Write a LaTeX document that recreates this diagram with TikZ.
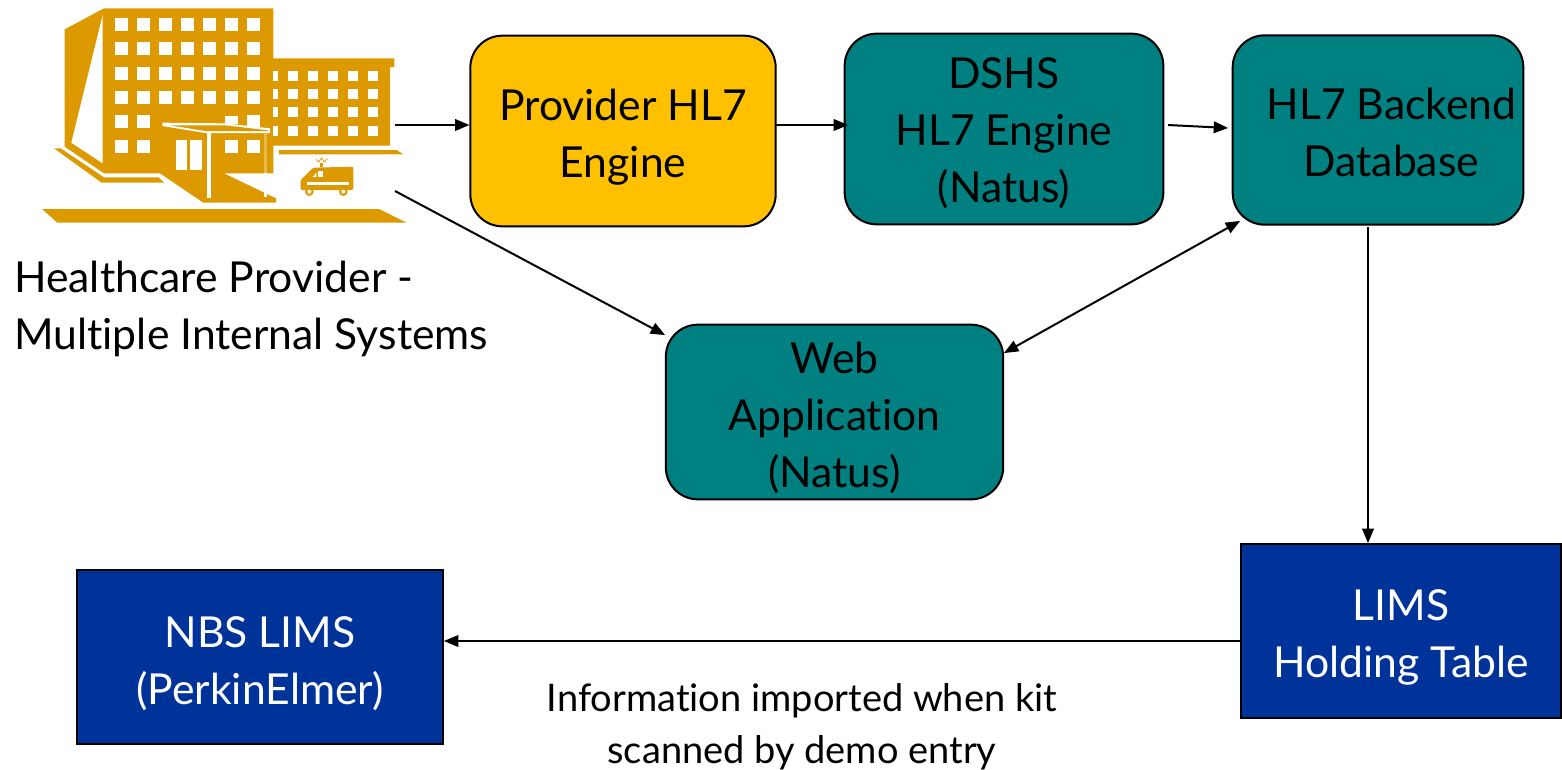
\documentclass[tikz,border=0pt]{standalone}
\usepackage{fontspec}
\setmainfont[Ligatures=NoCommon]{Lato}
\usepackage{xcolor}
\usetikzlibrary{shapes,arrows}
\definecolor{hospital}{HTML}{DD9900}
\definecolor{gold}{HTML}{FFC000}
\definecolor{tealbox}{HTML}{008080}
\definecolor{navy}{HTML}{003399}
\newcommand{\dropline}{\rule{0pt}{33pt}}

\begin{document}
\begin{tikzpicture}[x=0.75pt,y=-0.75pt]
\tikzstyle{label} = [align = center, inner sep = 0pt, font = \fontsize{32}{42.75}\selectfont]
\tikzstyle{engine} = [label, rectangle, rounded corners = 24pt, draw = black, line width = 1.5pt, text = black]
\tikzstyle{lims} = [label, rectangle, draw = black, line width = 1.5pt, fill = navy, text = white, minimum width = 240pt, minimum height = 131pt]
\tikzstyle{flow} = [-triangle 45, line width = 1.5pt, black]
\useasboundingbox (0,0) rectangle (1562,769);

% hospital, in a scope of its own
\begin{scope}[shift = {(30,0)}, x = 0.25pt, y = -0.25pt]
\fill[hospital] (104,88) -- (222,25) -- (730,25) -- (730,175) -- (1093,175) -- (1093,201) -- (1080,201) -- (1080,437) -- (730,437) -- (730,520) -- (582,520) -- (738,595) -- (738,608) -- (520,608) -- (390,520) -- (222,520) -- (104,440) -- cycle;
\fill[white] (218,45) -- (124,428) -- (218,490) -- cycle;
\fill[hospital] (72,445) -- (92,445) -- (222,532) -- (385,532) -- (403,548) -- (215,548) -- cycle;
\fill[hospital] (747,450) -- (1100,450) -- (1120,463) -- (747,463) -- cycle;
\fill[hospital] (36,627) -- (1047,627) -- (1130,668) -- (82,668) -- cycle;
\foreach \wx in {255,321,387,453,519,585,651}
	\foreach \wy in {54,126,201,273}
		\fill[white] (\wx,\wy) rectangle ++(39,39);
\foreach \wx in {255,321}
	\foreach \wy in {345,420}
		\fill[white] (\wx,\wy) rectangle ++(39,39);
\foreach \wx in {585,651}
	\fill[white] (\wx,420) rectangle ++(39,39);
\fill[white] (585,347) rectangle (624,372);
\fill[white] (651,345) rectangle (690,380);
\foreach \wy in {213,267,321,377} {
	\fill[white] (730,\wy) rectangle ++(14,30);
	\foreach \wx in {774,834,894,954,1014}
		\fill[white] (\wx,\wy) rectangle ++(30,30);
}
% porch
\fill[white] (397,368) -- (585,370) -- (720,385) -- (720,399) -- (525,399) -- (397,378) -- cycle;
\fill[hospital] (420,376) -- (585,376) -- (714,391) -- (714,393) -- (527,393) -- cycle;
\fill[white] (531,399) rectangle (543,594);
\fill[white] (702,399) rectangle (712,590);
\fill[hospital!70] (702,399) rectangle (712,520);
\fill[white] (438,420) rectangle (471,510);
\fill[white] (480,420) rectangle (516,510);
% ambulance
\fill[hospital, rounded corners = 1pt] (812,570) -- (812,540) -- (850,503) -- (970,500) -- (970,570) -- cycle;
\fill[hospital] (838,575) circle (13);
\fill[hospital] (940,575) circle (13);
\fill[white] (838,575) circle (6);
\fill[white] (940,575) circle (6);
\fill[white] (832,546) rectangle (958,556);
\fill[white] (863,513) rectangle (879,531);
\fill[white] (848,531) -- (859,518) -- (859,531) -- cycle;
\fill[hospital] (870,490) rectangle (880,502);
\draw[hospital, line width = 0.6pt] (858,478) -- (866,486) -- (875,474) -- (883,486) -- (892,476);
\end{scope}

\node[engine, fill = gold, minimum width = 229pt, minimum height = 143pt] (provider) at (623,131) {\dropline Provider HL7\\Engine};
\node[engine, fill = tealbox, minimum width = 239pt, minimum height = 143pt] (dshs) at (1004,129) {\rule{0pt}{30pt}DSHS\\HL7 Engine\\(Natus)};
\node[engine, fill = tealbox, minimum width = 218pt, minimum height = 142pt] (backend) at (1378,130) {\rule{0pt}{27pt}\hspace*{20pt}HL7 Backend\\\hspace*{20pt}Database};
\node[engine, fill = tealbox, minimum width = 253pt, minimum height = 131pt] (web) at (834.5,412) {\dropline Web\\Application\\(Natus)};
\node[lims] (holding) at (1401,631) {\dropline LIMS\\Holding Table};
\node[lims, minimum width = 275pt] (nbs) at (260,657) {\dropline NBS LIMS\\(PerkinElmer)};
\node[label, align = left, anchor = west] (provlabel) at (14,302.7) {\dropline Healthcare Provider -\\Multiple Internal Systems};
\node[label, font = \fontsize{28.5}{39}\selectfont] (note) at (802,718.5) {\dropline Information imported when kit\\scanned by demo entry};

\coordinate (hospout) at (395,125);
\coordinate (hospdiag) at (395,191);
\coordinate (provout) at (776,125);
\coordinate (dshsin) at (848,125);
\coordinate (dshsout) at (1168,125);
\coordinate (backin) at (1228,128);
\coordinate (backdiag) at (1240,221);
\coordinate (webdiag) at (1004,353);
\coordinate (backout) at (1368,227);
\coordinate (holdin) at (1368,543);
\coordinate (holdout) at (1240,641);
\coordinate (nbsin) at (444,641);
\coordinate (webin) at (665,335);

\draw[flow] (hospout) -- (hospout -| provider.west);
\draw[flow] (provout) -- (dshsin);
\draw[flow] (dshsout) -- (backin);
\draw[flow] (hospdiag) -- (webin);
\draw[flow, triangle 45-triangle 45] (webdiag) -- (backdiag);
\draw[flow] (backout) -- (holdin);
\draw[flow] (holdout) -- (nbsin);
\end{tikzpicture}
\end{document}
